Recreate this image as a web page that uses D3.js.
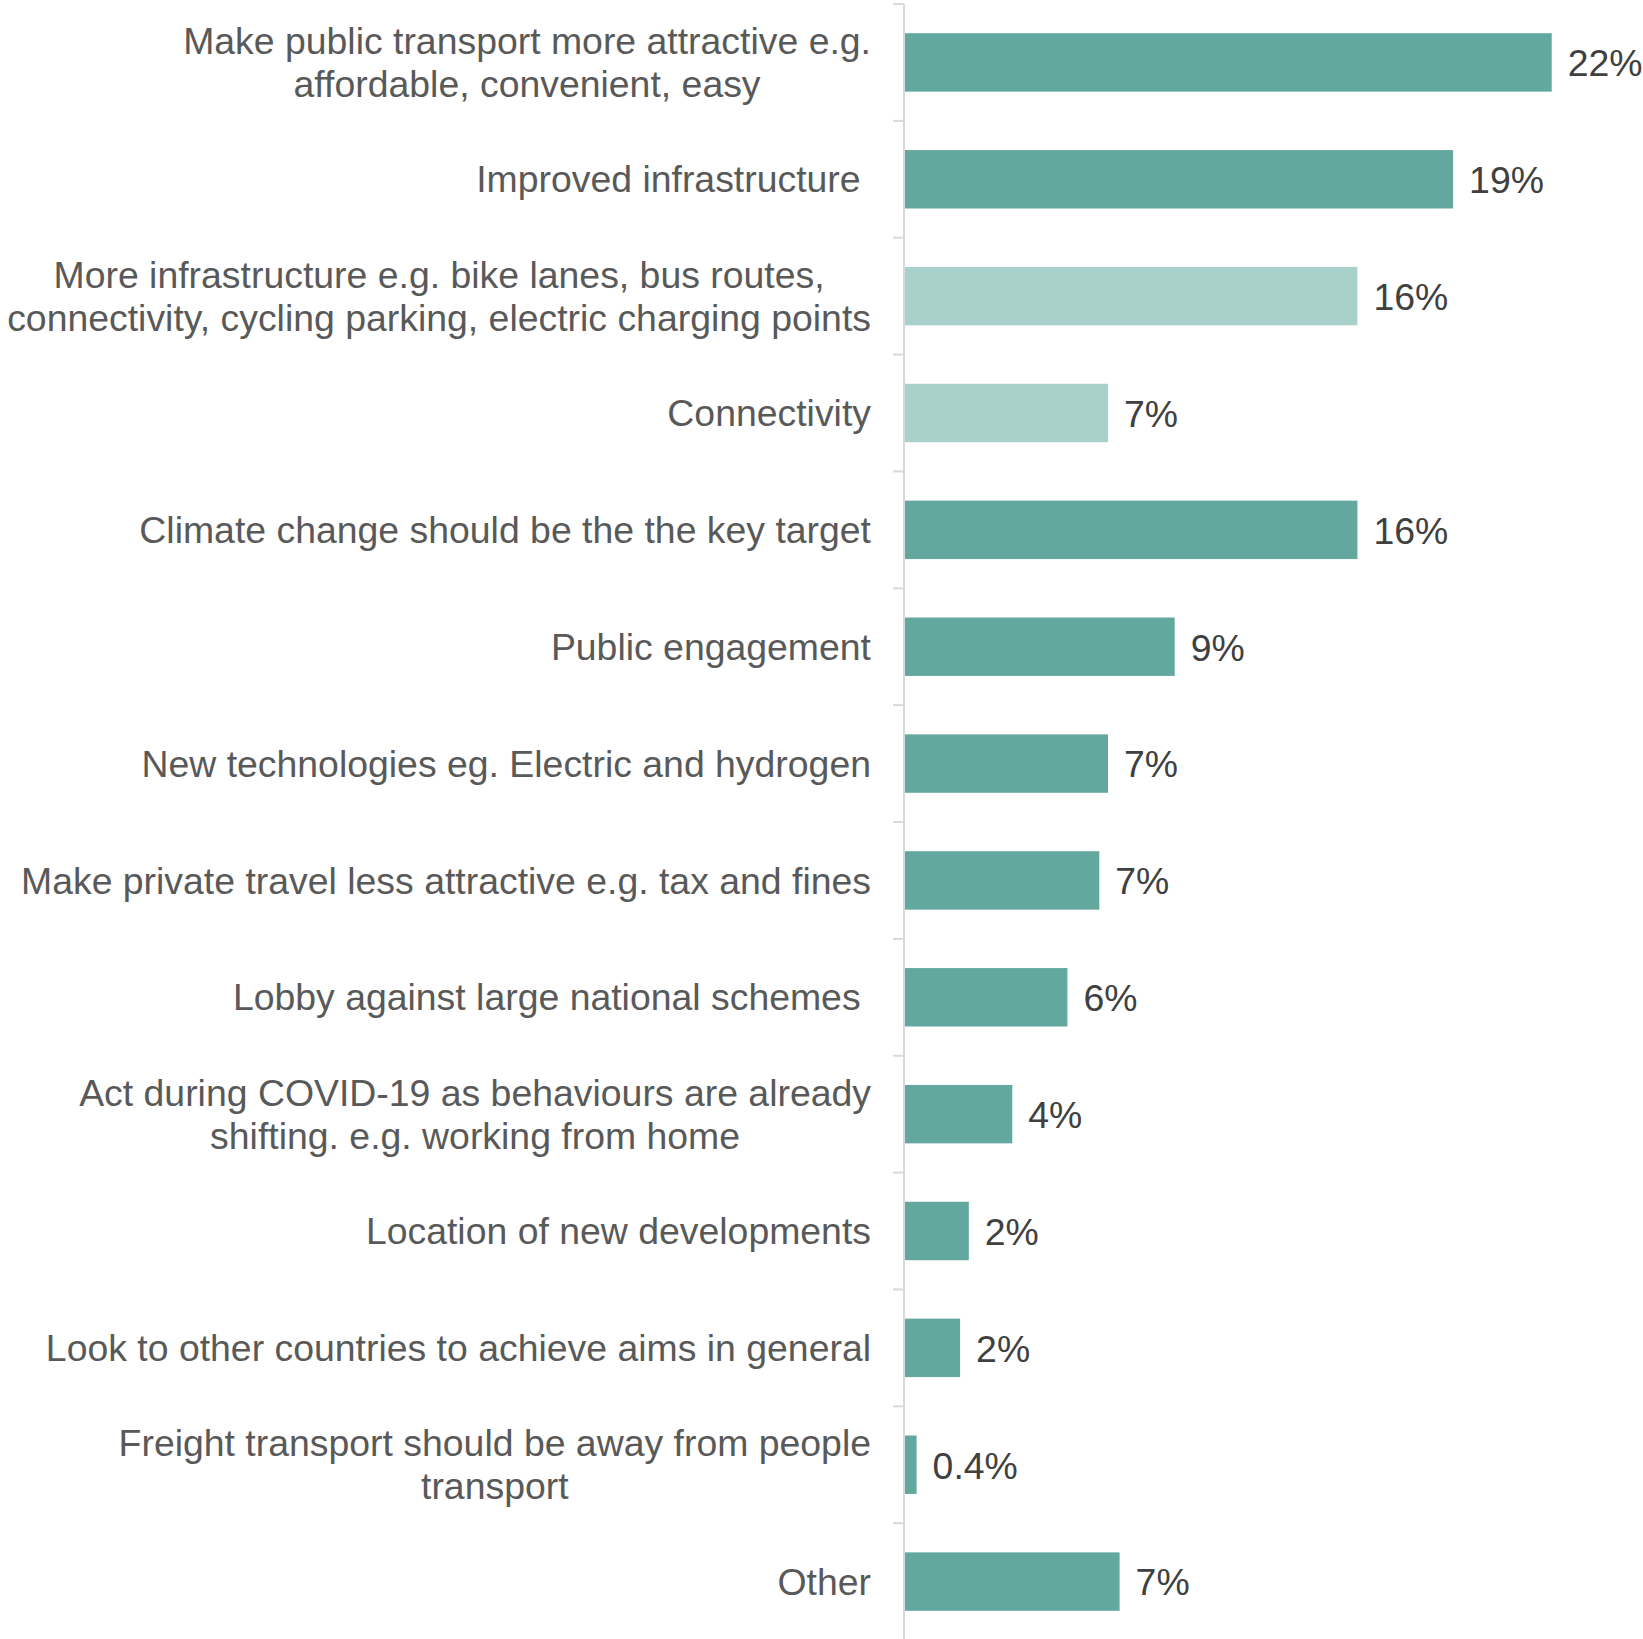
<!DOCTYPE html>
<html>
<head>
<meta charset="utf-8">
<script src="https://cdn.jsdelivr.net/npm/d3@7/dist/d3.min.js"></script>
<style>
  html, body { margin: 0; padding: 0; background: #ffffff; }
  svg { display: block; }
  text { font-family: "Liberation Sans", Arial, Helvetica, sans-serif; white-space: pre; }
</style>
</head>
<body>
<svg id="chart" width="1643" height="1639"></svg>
<script>
// Suggested actions, each label split into its wrapped lines
const categories = [
  ["Make public transport more attractive e.g.", "affordable, convenient, easy"],
  ["Improved infrastructure "],
  ["More infrastructure e.g. bike lanes, bus routes,", "connectivity, cycling parking, electric charging points"],
  ["Connectivity"],
  ["Climate change should be the the key target"],
  ["Public engagement"],
  ["New technologies eg. Electric and hydrogen"],
  ["Make private travel less attractive e.g. tax and fines"],
  ["Lobby against large national schemes "],
  ["Act during COVID-19 as behaviours are already", "shifting. e.g. working from home"],
  ["Location of new developments"],
  ["Look to other countries to achieve aims in general"],
  ["Freight transport should be away from people", "transport"],
  ["Other"]
];

// Share of responses (%)
const values = [22.3, 18.9, 15.6, 7.0, 15.6, 9.3, 7.0, 6.7, 5.6, 3.7, 2.2, 1.9, 0.4, 7.4];

// Rows shown in the lighter shade
const lightRows = [2, 3];

const xDomain = [0, 25];

const darkColor = "#62a89f";
const lightColor = "#a9d1cc";

const svg = d3.select("#chart");

const axisX = 904;
const labelRight = 871;
const fontSize = 37.4;

const x = d3.scaleLinear().domain(xDomain).range([axisX + 1, 1630]);

const y = d3.scaleBand()
  .domain(d3.range(categories.length))
  .range([4, 1640])
  .paddingInner(0.5)
  .paddingOuter(0.25);

const step = y.step();

// Bars
svg.append("g")
  .selectAll("rect")
  .data(values)
  .join("rect")
  .attr("x", x(0))
  .attr("y", (d, i) => y(i))
  .attr("width", d => x(d) - x(0))
  .attr("height", y.bandwidth())
  .attr("fill", (d, i) => lightRows.includes(i) ? lightColor : darkColor);

// Category axis: vertical line with ticks between the categories
const axisG = svg.append("g").attr("stroke", "#d9d9d9").attr("stroke-width", 2);
axisG.append("line")
  .attr("x1", axisX).attr("x2", axisX)
  .attr("y1", y.range()[0]).attr("y2", y.range()[1]);
axisG.selectAll("line.tick")
  .data(d3.range(categories.length + 1))
  .join("line")
  .attr("class", "tick")
  .attr("x1", axisX - 11).attr("x2", axisX)
  .attr("y1", i => y.range()[0] + i * step)
  .attr("y2", i => y.range()[0] + i * step);

// Category labels: block right-aligned at the axis, lines centred inside it
const lineGap = 43;
const labelG = svg.append("g")
  .attr("font-size", fontSize)
  .attr("fill", "#595959");

categories.forEach((lines, i) => {
  const cy = y(i) + y.bandwidth() / 2;
  const t = labelG.append("text").attr("text-anchor", "middle");
  const spans = lines.map((line, j) =>
    t.append("tspan")
      .attr("y", cy + (j - (lines.length - 1) / 2) * lineGap)
      .attr("dy", "0.35em")
      .text(line)
  );
  const widest = d3.max(spans, s => s.node().getComputedTextLength());
  spans.forEach(s => s.attr("x", labelRight - widest / 2));
});

// Value labels
const fmt = v => (v < 1 ? v.toFixed(1) : Math.round(v)) + "%";
svg.append("g")
  .attr("font-size", fontSize)
  .attr("fill", "#404040")
  .selectAll("text")
  .data(values)
  .join("text")
  .attr("x", d => x(d) + 16)
  .attr("y", (d, i) => y(i) + y.bandwidth() / 2)
  .attr("dy", "0.37em")
  .text(fmt);
</script>
</body>
</html>
